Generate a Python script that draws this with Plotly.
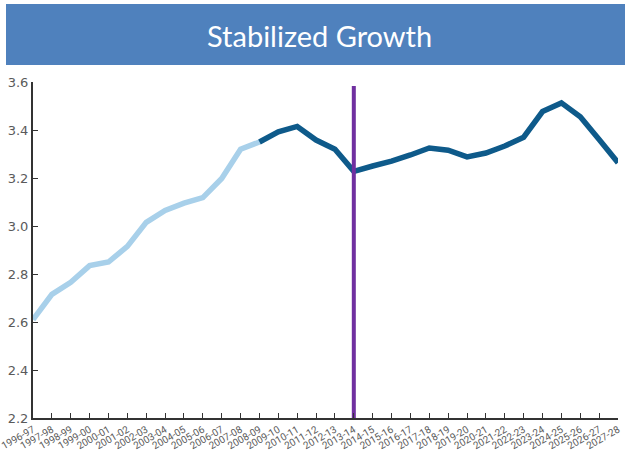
import plotly.graph_objects as go

# School years on the horizontal axis
years = [
    "1996-97", "1997-98", "1998-99", "1999-00", "2000-01", "2001-02", "2002-03",
    "2003-04", "2004-05", "2005-06", "2006-07", "2007-08", "2008-09", "2009-10",
    "2010-11", "2011-12", "2012-13", "2013-14", "2014-15", "2015-16", "2016-17",
    "2017-18", "2018-19", "2019-20", "2020-21", "2021-22", "2022-23", "2023-24",
    "2024-25", "2025-26", "2026-27", "2027-28",
]

# Historical values (1996-97 through 2008-09)
history_years = years[:13]
history_values = [2.61, 2.715, 2.765, 2.835, 2.85, 2.915, 3.015, 3.065, 3.095,
                  3.118, 3.198, 3.32, 3.35]

# Later values (2008-09 through 2027-28)
recent_years = years[12:]
recent_values = [3.35, 3.392, 3.415, 3.358, 3.32, 3.228, 3.25, 3.27, 3.296,
                 3.325, 3.316, 3.288, 3.304, 3.333, 3.37, 3.477, 3.513, 3.455,
                 3.36, 3.264]

marker_year = "2013-14"
marker_top = 3.583

title_text = "Stabilized Growth"

fig = go.Figure()
fig.add_trace(go.Scatter(
    x=history_years, y=history_values, mode="lines",
    line=dict(color="#A8D0EA", width=5.5), hoverinfo="skip",
))
fig.add_trace(go.Scatter(
    x=recent_years, y=recent_values, mode="lines",
    line=dict(color="#0E5A8A", width=5.5), hoverinfo="skip",
))

# Vertical divider
fig.add_trace(go.Scatter(
    x=[marker_year, marker_year], y=[2.2, marker_top], mode="lines",
    line=dict(color="#7030A0", width=4), hoverinfo="skip",
))

L, R, T, B = 33, 7, 82, 34
W, H = 625, 452
pw, ph = W - L - R, H - T - B

def px_x(p):
    return (p - L) / pw

def px_y(p):
    return (H - B - p) / ph

# Title banner
fig.add_shape(type="rect", xref="paper", yref="paper",
              x0=px_x(6), x1=px_x(627), y0=px_y(65), y1=px_y(4),
              fillcolor="#4F81BD", line=dict(width=0), layer="below")
fig.add_annotation(text=title_text, xref="paper", yref="paper",
                   x=px_x(319.5), y=px_y(35), showarrow=False,
                   font=dict(family="Lato, Open Sans, sans-serif", size=29,
                             color="white"),
                   xanchor="center", yanchor="middle")

fig.update_layout(
    width=W, height=H,
    margin=dict(l=L, r=R, t=T, b=B, autoexpand=False),
    paper_bgcolor="white", plot_bgcolor="white",
    showlegend=False,
    xaxis=dict(
        type="category", categoryorder="array", categoryarray=years,
        range=[0, len(years) - 1], dtick=1, automargin=False,
        showgrid=False, zeroline=False,
        showline=True, linecolor="#333333", linewidth=2,
        ticks="inside", ticklen=5, tickcolor="#333333", tickwidth=1,
        tickangle=-30,
        tickfont=dict(family="Liberation Sans Narrow, Roboto, sans-serif",
                      size=10, color="#5a5a5a"),
    ),
    yaxis=dict(
        range=[2.2, 3.6], tickvals=[2.2, 2.4, 2.6, 2.8, 3.0, 3.2, 3.4, 3.6],
        ticktext=["2.2", "2.4", "2.6", "2.8", "3.0", "3.2", "3.4", "3.6"],
        automargin=False,
        showgrid=False, zeroline=False,
        showline=True, linecolor="#333333", linewidth=2,
        ticks="inside", ticklen=5, tickcolor="#333333", tickwidth=1,
        tickfont=dict(family="DejaVu Sans, sans-serif", size=13,
                      color="#5a5a5a"),
    ),
)

fig.write_html("out.html")
